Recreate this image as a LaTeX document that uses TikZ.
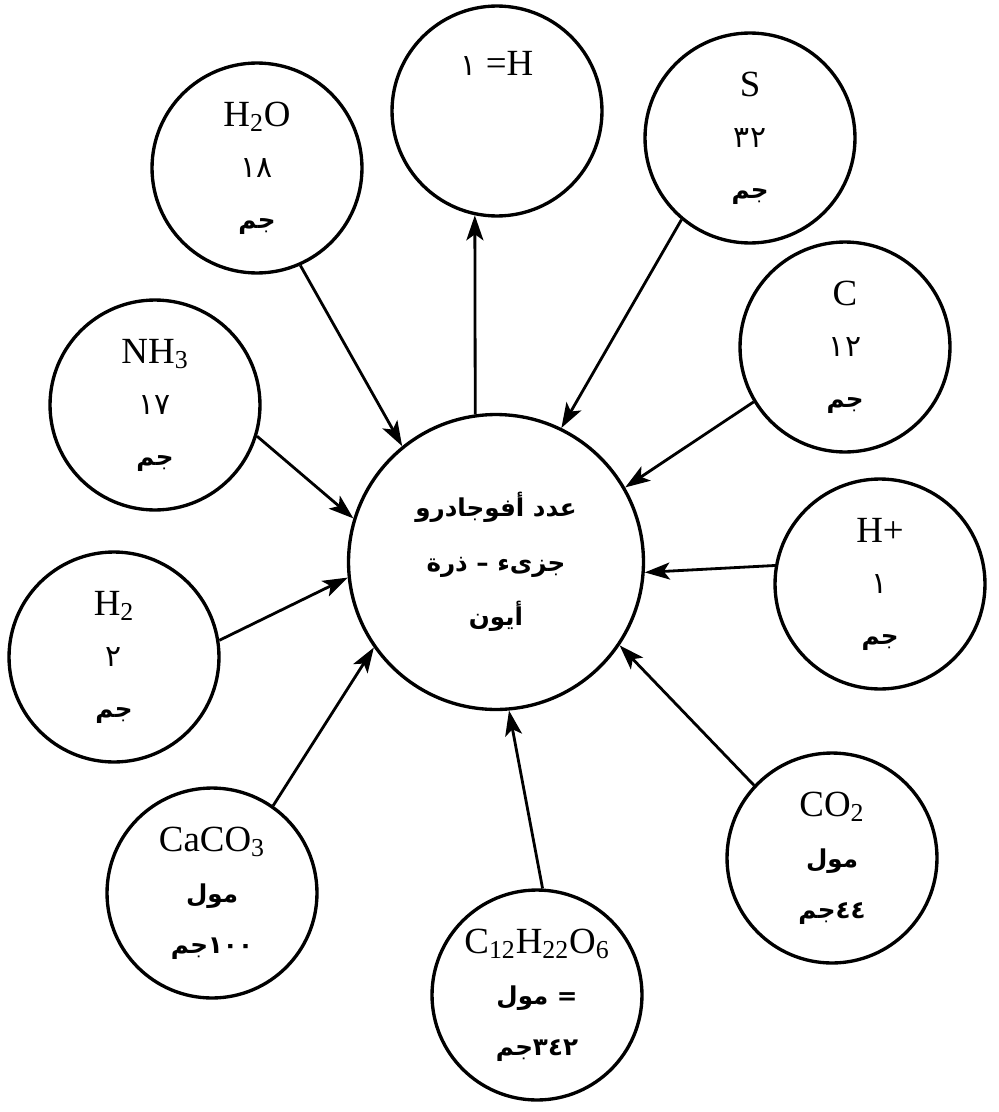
\documentclass[tikz,border=0pt]{standalone}
\usepackage{fontspec}
\setmainfont{Liberation Serif}
\newfontfamily\arabicfont[Script=Arabic]{DejaVu Sans}
\TeXXeTstate=1
\usetikzlibrary{arrows.meta}
\newcommand{\arb}[1]{{\arabicfont\bfseries\fontsize{14}{14}\selectfont\beginR #1\endR}}
\newcommand{\arn}[1]{{\arabicfont\fontsize{17}{17}\selectfont\beginR #1\endR}}

\begin{document}
\begin{tikzpicture}[
    x=0.02cm, y=-0.02cm,
    >={Stealth[length=5mm,width=3.4mm,inset=1.2mm]},
    atom/.style={circle, draw, line width=1.9pt, minimum size=4.2cm, inner sep=0pt,
                 align=center, font=\fontsize{21}{29}\selectfont},
    hub/.style={atom, minimum size=5.9cm, font=\fontsize{21}{31}\selectfont},
    link/.style={->, line width=1.6pt},
]
\useasboundingbox (0,0) rectangle (998,1112);
\node[hub]  (avo)   at (496,562) {\arb{عدد أفوجادرو}\\\arb{جزىء – ذرة}\\\arb{أيون}};
\node[atom] (h)     at (497,111) {};
\node[font=\fontsize{21}{29}\selectfont] (hlabel) at (497,63) {\arn{١} =H};
\node[atom] (h2o)   at (257,168) {H\textsubscript{2}O\\\arn{١٨}\\\arb{جم}};
\node[atom] (s)     at (750,138) {S\\\arn{٣٢}\\\arb{جم}};
\node[atom] (c)     at (845,347) {C\\\arn{١٢}\\\arb{جم}};
\node[atom] (nh3)   at (155,405) {NH\textsubscript{3}\\\arn{١٧}\\\arb{جم}};
\node[atom] (hplus) at (880,584) {H+\\\arn{١}\\\arb{جم}};
\node[atom] (h2)    at (114,657) {H\textsubscript{2}\\\arn{٢}\\\arb{جم}};
\node[atom] (caco3) at (212,893) {CaCO\textsubscript{3}\\\arb{مول}\\\arb{١٠٠جم}};
\node[atom] (co2)   at (832,858) {CO\textsubscript{2}\\\arb{مول}\\\arb{٤٤جم}};
\node[atom] (sugar) at (537,995) {C\textsubscript{12}H\textsubscript{22}O\textsubscript{6}\\\arb{= مول}\\\arb{٣٤٢جم}};
\draw[link] (h2o.-66)   -- (avo.129);
\draw[link] (avo.98)    -- (h.-102);
\draw[link] (s.-130)    -- (avo.64);
\draw[link] (c.-149)    -- (avo.30);
\draw[link] (hplus.170) -- (avo.-4);
\draw[link] (co2.137)   -- (avo.-34);
\draw[link] (sugar.87)  -- (avo.-85);
\draw[link] (caco3.55)  -- (avo.215);
\draw[link] (h2.9)      -- (avo.186);
\draw[link] (nh3.-17)   -- (avo.163);
\end{tikzpicture}
\end{document}
